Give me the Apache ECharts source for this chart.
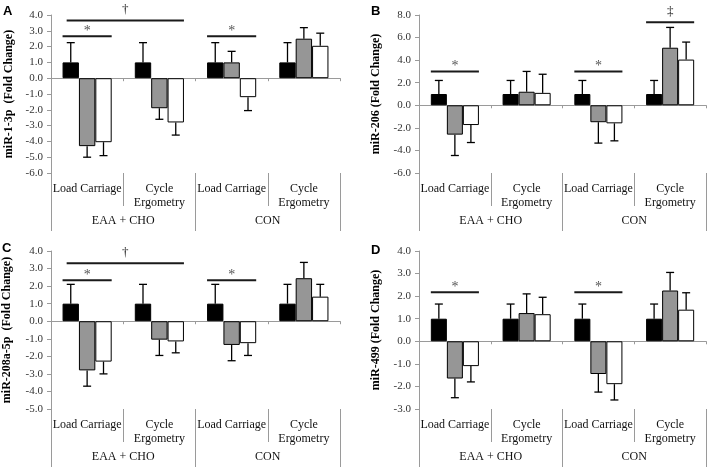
<!DOCTYPE html>
<html><head><meta charset="utf-8">
<script src="https://cdn.jsdelivr.net/npm/echarts@6/dist/echarts.min.js"></script>
<style>html,body{margin:0;padding:0;background:#fff}#c{width:708px;height:467px}</style>
</head><body><div id="c"></div>
<script>
// ---- data ----
const categories = ['Load Carriage', 'Cycle\nErgometry', 'Load Carriage', 'Cycle\nErgometry'];
const conditions = ['EAA + CHO', 'CON'];
const seriesNames = ['Black', 'Gray', 'White'];

// Panel A: miR-1-3p
const A_black = [1.0, 1.0, 1.0, 1.0];
const A_blackErr = [1.25, 1.25, 1.25, 1.25];
const A_gray = [-4.3, -1.9, 1.0, 2.5];
const A_grayErr = [0.7, 0.7, 0.7, 0.7];
const A_white = [-4.05, -2.8, -1.2, 2.05];
const A_whiteErr = [0.85, 0.8, 0.85, 0.8];
const A_sig = [[0, -1.5, 0, 1.5, 2.65], [0, -1.25, 1, 1.5, 3.65], [2, -1.5, 2, 1.5, 2.65]];
const A_sigMarks = ['*', '†', '*'];

// Panel B: miR-206
const B_black = [1.0, 1.0, 1.0, 1.0];
const B_blackErr = [1.2, 1.2, 1.2, 1.2];
const B_gray = [-2.6, 1.2, -1.5, 5.1];
const B_grayErr = [1.85, 1.8, 1.85, 1.8];
const B_white = [-1.75, 1.1, -1.6, 4.05];
const B_whiteErr = [1.55, 1.65, 1.55, 1.55];
const B_sig = [[0, -1.5, 0, 1.5, 3.0], [2, -1.5, 2, 1.5, 3.0], [3, -1.5, 3, 1.5, 7.35]];
const B_sigMarks = ['*', '*', '‡'];

// Panel C: miR-208a-5p
const C_black = [1.0, 1.0, 1.0, 1.0];
const C_blackErr = [1.1, 1.1, 1.1, 1.1];
const C_gray = [-2.8, -1.05, -1.35, 2.45];
const C_grayErr = [0.9, 0.9, 0.9, 0.9];
const C_white = [-2.3, -1.15, -1.25, 1.4];
const C_whiteErr = [0.7, 0.65, 0.7, 0.7];
const C_sig = [[0, -1.5, 0, 1.5, 2.33], [0, -1.25, 1, 1.5, 3.3], [2, -1.5, 2, 1.5, 2.33]];
const C_sigMarks = ['*', '†', '*'];

// Panel D: miR-499
const D_black = [1.0, 1.0, 1.0, 1.0];
const D_blackErr = [0.65, 0.65, 0.65, 0.65];
const D_gray = [-1.65, 1.25, -1.45, 2.25];
const D_grayErr = [0.85, 0.85, 0.8, 0.8];
const D_white = [-1.1, 1.2, -1.9, 1.4];
const D_whiteErr = [0.7, 0.75, 0.7, 0.75];
const D_sig = [[0, -1.5, 0, 1.5, 2.17], [2, -1.5, 2, 1.5, 2.17]];
const D_sigMarks = ['*', '*'];

const panelLetters = ['A', 'B', 'C', 'D'];
const yNames = ['miR-1-3p  (Fold Change)', 'miR-206 (Fold Change)', 'miR-208a-5p  (Fold Change)', 'miR-499 (Fold Change)'];
const yMin = [-6, -6, -5, -3];
const yMax = [4, 8, 4, 4];
const yInterval = [1, 2, 1, 1];

// ---- assemble ----
const panels = [
  {vals: [A_black, A_gray, A_white], errs: [A_blackErr, A_grayErr, A_whiteErr], sig: A_sig, marks: A_sigMarks},
  {vals: [B_black, B_gray, B_white], errs: [B_blackErr, B_grayErr, B_whiteErr], sig: B_sig, marks: B_sigMarks},
  {vals: [C_black, C_gray, C_white], errs: [C_blackErr, C_grayErr, C_whiteErr], sig: C_sig, marks: C_sigMarks},
  {vals: [D_black, D_gray, D_white], errs: [D_blackErr, D_grayErr, D_whiteErr], sig: D_sig, marks: D_sigMarks}
];
const layouts = [
  {left: 51, top: 15, width: 289, height: 158, nameGap: 36, gap: 0.32},
  {left: 419, top: 15, width: 287, height: 158, nameGap: 37, gap: 0.33},
  {left: 51, top: 251, width: 289, height: 158, nameGap: 38, gap: 0.32},
  {left: 419, top: 251, width: 287, height: 158, nameGap: 37, gap: 0.33}
];
const letterPos = [[3, 5], [371, 5], [2, 242], [371, 244]];
const barColors = ['#000000', '#969696', '#ffffff'];
const SERIF = '"Liberation Serif", "Times New Roman", serif';
const axisGray = '#9a9a9a';

const grid = [], xAxis = [], yAxis = [], series = [], graphic = [];
panels.forEach((p, i) => {
  const L = layouts[i];
  grid.push({left: L.left, top: L.top, width: L.width, height: L.height, containLabel: false, outerBoundsMode: 'none'});
  xAxis.push({type: 'category', gridIndex: i, data: categories, position: 'bottom',
    axisLine: {onZero: true, lineStyle: {color: axisGray, width: 1}},
    axisTick: {show: true, length: 3, interval: 0, lineStyle: {color: axisGray}},
    axisLabel: {show: false}, splitLine: {show: false}});
  xAxis.push({type: 'category', gridIndex: i, data: categories, position: 'bottom',
    axisLine: {show: false, onZero: false},
    axisTick: {show: true, length: 33, interval: 0, lineStyle: {color: axisGray}},
    axisLabel: {interval: 0, margin: 9, fontFamily: SERIF, fontSize: 12, color: '#111', lineHeight: 14},
    splitLine: {show: false}});
  xAxis.push({type: 'category', gridIndex: i, data: conditions, position: 'bottom',
    axisLine: {show: false, onZero: false},
    axisTick: {show: true, length: 58, interval: 0, lineStyle: {color: axisGray}},
    axisLabel: {interval: 0, margin: 42, fontFamily: SERIF, fontSize: 12, color: '#111'},
    splitLine: {show: false}});
  yAxis.push({type: 'value', gridIndex: i, min: yMin[i], max: yMax[i], interval: yInterval[i],
    splitLine: {show: false},
    axisLine: {show: true, lineStyle: {color: axisGray}},
    axisTick: {show: true, length: 4, lineStyle: {color: axisGray}},
    axisLabel: {formatter: v => v.toFixed(1), fontFamily: SERIF, fontSize: 11, color: '#333', margin: 8},
    name: yNames[i], nameLocation: 'middle', nameGap: L.nameGap,
    nameTextStyle: {fontFamily: SERIF, fontWeight: 'bold', fontSize: 12, color: '#000'}});

  const xi = i * 3;
  p.vals.forEach((arr, b) => {
    series.push({type: 'bar', name: seriesNames[b], xAxisIndex: xi, yAxisIndex: i, data: arr,
      barGap: '0%', barCategoryGap: (L.gap * 100) + '%', z: 3, silent: true,
      itemStyle: {color: barColors[b], borderColor: '#000', borderWidth: 1}});
  });

  const errData = [];
  p.vals.forEach((arr, b) => arr.forEach((v, c) => errData.push([c, b, v, p.errs[b][c]])));
  const gapFrac = L.gap;
  series.push({type: 'custom', xAxisIndex: xi, yAxisIndex: i, data: errData, z: 2, silent: true,
    encode: {x: 0, y: 2},
    renderItem: (params, api) => {
      const cat = api.value(0), bi = api.value(1), v = api.value(2), e = api.value(3);
      const band = api.size([1, 0])[0];
      const bw = band * (1 - gapFrac) / 3;
      const base = api.coord([cat, v]);
      const end = api.coord([cat, v + (v >= 0 ? e : -e)]);
      const x = base[0] + (bi - 1) * bw;
      const st = {stroke: '#000', lineWidth: 1.3};
      return {type: 'group', children: [
        {type: 'line', shape: {x1: x, y1: base[1], x2: x, y2: end[1]}, style: st},
        {type: 'line', shape: {x1: x - 4, y1: end[1], x2: x + 4, y2: end[1]}, style: st}
      ]};
    }});

  const sig = p.sig, marks = p.marks;
  series.push({type: 'custom', xAxisIndex: xi, yAxisIndex: i, data: sig.map(s => [s[0], s[4]]), z: 4, silent: true,
    renderItem: (params, api) => {
      const s = sig[params.dataIndex];
      const band = api.size([1, 0])[0];
      const bw = band * (1 - gapFrac) / 3;
      const p1 = api.coord([s[0], s[4]]);
      const p2 = api.coord([s[2], s[4]]);
      const x1 = p1[0] + s[1] * bw, x2 = p2[0] + s[3] * bw;
      const m = marks[params.dataIndex];
      const isStar = m === '*';
      return {type: 'group', children: [
        {type: 'line', shape: {x1: x1, y1: p1[1], x2: x2, y2: p1[1]}, style: {stroke: '#1a1a1a', lineWidth: 2}},
        {type: 'text', x: (x1 + x2) / 2, y: p1[1] - (isStar ? 5 : 11),
          style: {text: m, fill: isStar ? '#555' : '#222', font: (isStar ? '14px ' : '13px ') + SERIF, align: 'center', verticalAlign: 'middle'}}
      ]};
    }});

  graphic.push({type: 'text', x: letterPos[i][0], y: letterPos[i][1],
    style: {text: panelLetters[i], font: 'bold 13px "Liberation Sans", Arial, sans-serif', fill: '#000', verticalAlign: 'top'}});
});

const chart = echarts.init(document.getElementById('c'), null, {renderer: 'canvas'});
chart.setOption({animation: false, backgroundColor: '#fff', grid, xAxis, yAxis, series, graphic});
</script>
</body></html>
